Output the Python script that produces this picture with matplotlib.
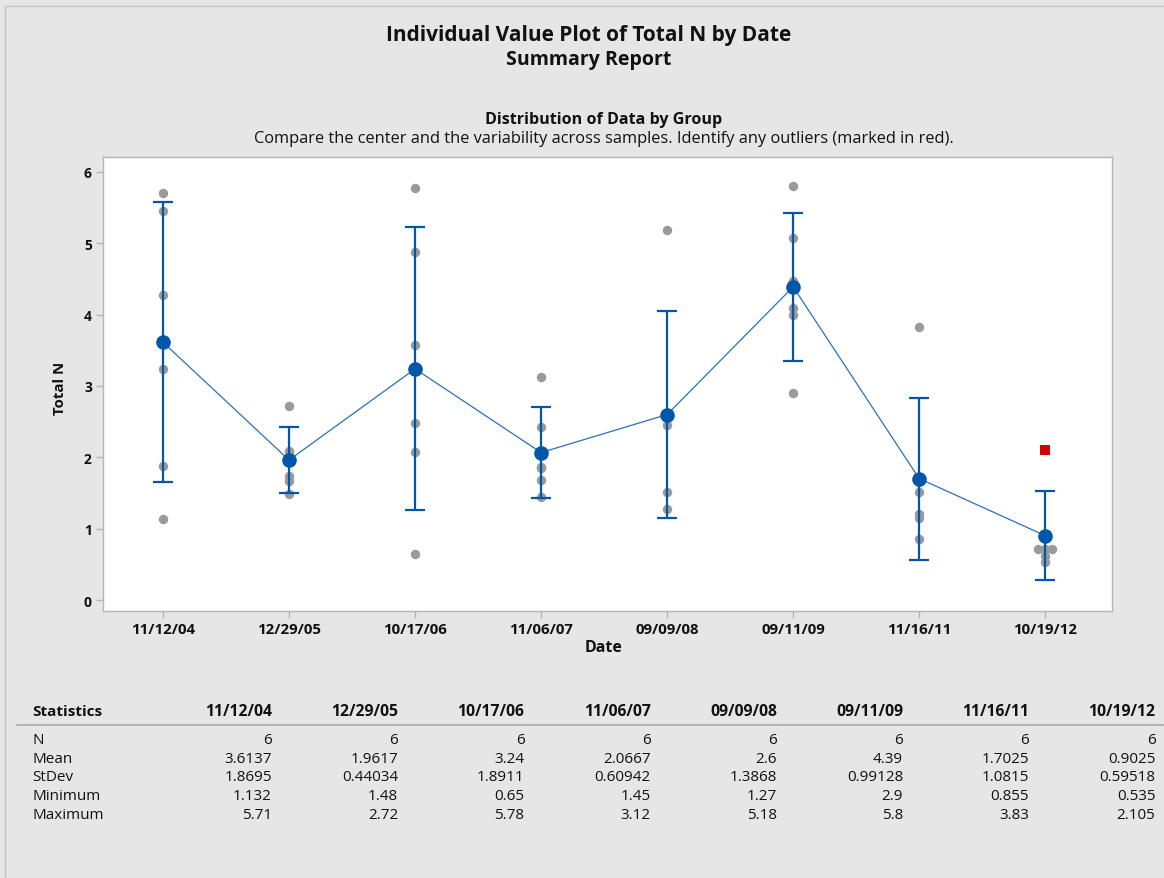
import numpy as np
import matplotlib
matplotlib.use("Agg")
import matplotlib.pyplot as plt
from matplotlib.patches import Rectangle

plt.rcParams['font.family'] = ['Open Sans', 'DejaVu Sans']

# ---------------- data ----------------
dates = ["11/12/04", "12/29/05", "10/17/06", "11/06/07",
         "09/09/08", "09/11/09", "11/16/11", "10/19/12"]

g_110204 = [5.71, 5.45, 4.27, 3.24, 1.88, 1.132]
g_122905 = [2.72, 2.09, 2.07, 1.74, 1.67, 1.48]
g_101706 = [5.78, 4.88, 3.58, 2.48, 2.07, 0.65]
g_110607 = [3.12, 2.43, 1.87, 1.85, 1.68, 1.45]
g_090908 = [5.18, 2.62, 2.57, 2.45, 1.51, 1.27]
g_091109 = [5.80, 5.07, 4.47, 4.10, 4.00, 2.90]
g_111611 = [3.83, 1.66, 1.51, 1.21, 1.15, 0.855]
g_101912 = [2.105, 0.72, 0.72, 0.715, 0.62, 0.535]
groups = [g_110204, g_122905, g_101706, g_110607,
          g_090908, g_091109, g_111611, g_101912]
outlier_values = {7: [2.105]}

stat_n = [6, 6, 6, 6, 6, 6, 6, 6]
stat_mean = [3.6137, 1.9617, 3.24, 2.0667, 2.6, 4.39, 1.7025, 0.9025]
stat_stdev = [1.8695, 0.44034, 1.8911, 0.60942, 1.3868, 0.99128, 1.0815, 0.59518]
stat_min = [1.132, 1.48, 0.65, 1.45, 1.27, 2.9, 0.855, 0.535]
stat_max = [5.71, 2.72, 5.78, 3.12, 5.18, 5.8, 3.83, 2.105]
t_crit = 2.5706  # t(0.975, df=5) for 95% CI of the mean

# ---------------- figure ----------------
W, H = 1164, 879
fig = plt.figure(figsize=(W / 100, H / 100), dpi=100)
bg = '#e6e6e6'
fig.patch.set_facecolor(bg)

def fx(x):
    return x / W

def fy(y):
    return 1 - y / H

# outer frame
fig.add_artist(Rectangle((fx(5), fy(H + 10)), fx(W + 20), (H + 3) / H,
                         transform=fig.transFigure, fill=False,
                         edgecolor='#c4c4c4', linewidth=1.0))

ax = fig.add_axes([fx(103), fy(612), fx(1112 - 103), (612 - 158) / H])
ax.set_facecolor('white')
for s in ax.spines.values():
    s.set_color('#b4b4b4')
    s.set_linewidth(1.0)

blue = '#0056a8'
gray = '#9a9a9a'
x = np.arange(len(dates))

# individual values, dodging identical values side by side
dodge = 0.056
for i, vals in enumerate(groups):
    outs = outlier_values.get(i, [])
    normal = [v for v in vals if v not in outs]
    normal_sorted = sorted(normal)
    clusters = []
    for v in normal_sorted:
        if clusters and abs(v - clusters[-1][-1]) < 0.015:
            clusters[-1].append(v)
        else:
            clusters.append([v])
    for cl in clusters:
        k = len(cl)
        offs = (np.arange(k) - (k - 1) / 2) * dodge
        ax.plot(x[i] + offs, cl, 'o', color=gray, ms=6.8, mew=0, zorder=2)
    if outs:
        ax.plot([x[i]] * len(outs), outs, 's', color='#d50000', ms=7.5,
                mew=0, zorder=4)

mean = np.array(stat_mean)
ci = t_crit * np.array(stat_stdev) / np.sqrt(np.array(stat_n))
ax.plot(x, mean, '-', color='#2a70c0', lw=0.9, zorder=3)
ax.errorbar(x, mean, yerr=ci, fmt='none', ecolor=blue, elinewidth=1.6,
            capsize=7, capthick=1.6, zorder=3)
ax.plot(x, mean, 'o', color=blue, ms=10.5, mew=0, zorder=5)

ax.set_xlim(-0.476, 7.53)
ax.set_ylim(-0.154, 6.21)
ax.set_xticks(x)
ax.set_xticklabels(dates, fontweight='bold', fontsize=10.8)
ax.set_yticks(range(7))
ax.set_yticklabels([str(v) for v in range(7)], fontweight='bold', fontsize=10)
ax.tick_params(axis='both', color='#b4b4b4', length=5, width=1,
               labelcolor='#111111')
ax.tick_params(axis='x', pad=3)
ax.tick_params(axis='y', pad=3)

fig.text(fx(60), fy(388), 'Total N', rotation=90, ha='center', va='center',
         fontweight='bold', fontsize=10.8, color='#111111')
fig.text(fx(604), fy(648), 'Date', ha='center', va='center',
         fontweight='bold', fontsize=11.5, color='#111111')

# titles
fig.text(fx(589), fy(36), 'Individual Value Plot of Total N by Date',
         ha='center', va='center', fontweight='bold', fontsize=15, color='#111111')
fig.text(fx(589), fy(60), 'Summary Report', ha='center', va='center',
         fontweight='bold', fontsize=14, color='#111111')
fig.text(fx(604), fy(120), 'Distribution of Data by Group', ha='center',
         va='center', fontweight='bold', fontsize=11.6, color='#111111')
fig.text(fx(604), fy(139),
         'Compare the center and the variability across samples. Identify any outliers (marked in red).',
         ha='center', va='center', fontsize=11.8, color='#111111')

# statistics table
col_right = [272 + 126.2 * i for i in range(len(dates))]
fig.text(fx(32), fy(712), 'Statistics', ha='left', va='center',
         fontweight='bold', fontsize=11, color='#111111')
for cr, d in zip(col_right, dates):
    fig.text(fx(cr), fy(712), d, ha='right', va='center',
             fontweight='bold', fontsize=11.3, color='#111111')
fig.add_artist(plt.Line2D([fx(17), fx(1163)], [fy(726), fy(726)],
                          transform=fig.transFigure, color='#a8a8a8', lw=1.2))

rows = [('N', stat_n), ('Mean', stat_mean), ('StDev', stat_stdev),
        ('Minimum', stat_min), ('Maximum', stat_max)]
row_y = [741, 760, 778, 797, 816]
for (lab, vals), ry in zip(rows, row_y):
    fig.text(fx(32), fy(ry), lab, ha='left', va='center', fontsize=11,
             color='#111111')
    for cr, v in zip(col_right, vals):
        fig.text(fx(cr), fy(ry), '%.5g' % v, ha='right', va='center',
                 fontsize=11, color='#111111')

fig.savefig('out.png', dpi=100, facecolor=bg)
